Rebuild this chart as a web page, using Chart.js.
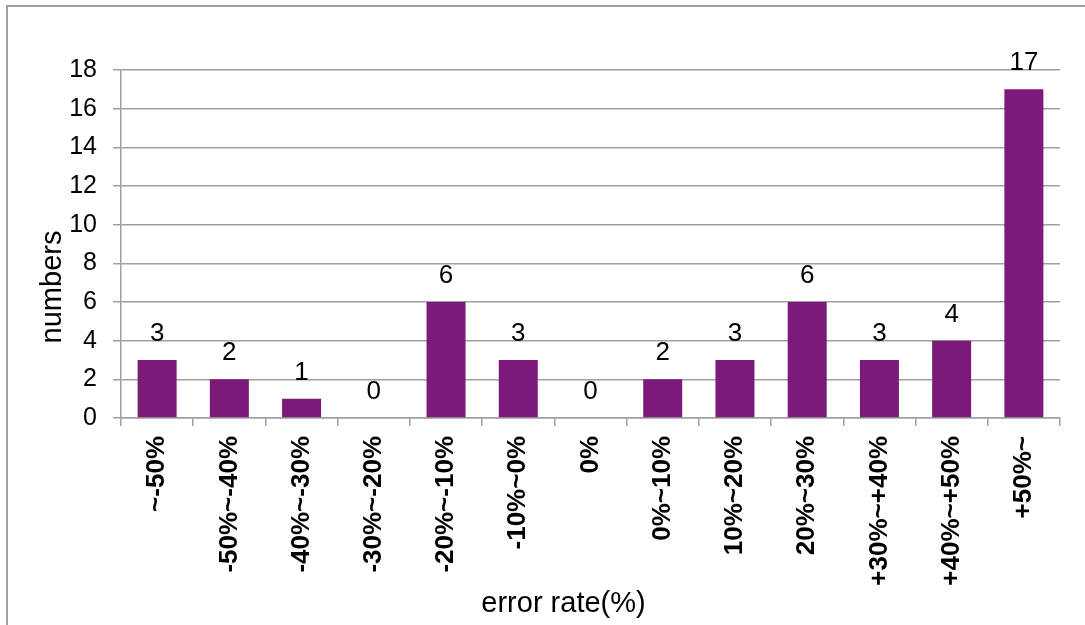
<!DOCTYPE html>
<html>
<head>
<meta charset="utf-8">
<script src="https://cdn.jsdelivr.net/npm/chart.js@4/dist/chart.umd.min.js"></script>
<style>
  html, body { margin: 0; padding: 0; background: #fff; overflow: hidden; }
  #wrap { width: 1085px; height: 625px; position: relative; }
</style>
</head>
<body>
<div id="wrap"><canvas id="chart" width="1085" height="625"></canvas></div>
<script>
// Error-rate bins and how many cases fall in each
const categories = ['~-50%', '-50%~-40%', '-40%~-30%', '-30%~-20%', '-20%~-10%', '-10%~0%',
                    '0%', '0%~10%', '10%~20%', '20%~30%', '+30%~+40%', '+40%~+50%', '+50%~'];
const counts = [3, 2, 1, 0, 6, 3, 0, 2, 3, 6, 3, 4, 17];
const yTickValues = [0, 2, 4, 6, 8, 10, 12, 14, 16, 18];
const xTitle = 'error rate(%)';
const yTitle = 'numbers';

const FONT = '"Liberation Sans", Arial, Helvetica, sans-serif';
const GRID = '#a0a0a0';
const BAR = '#7b1a79';

// Grey frame around the whole chart (its right and bottom edges run off the page)
const frame = { left: 7, top: 6, right: 1120, bottom: 760 };

const framePlugin = {
  id: 'frame',
  beforeDraw(chart) {
    const { ctx } = chart;
    ctx.save();
    ctx.fillStyle = '#fff';
    ctx.fillRect(0, 0, chart.width, chart.height);
    ctx.strokeStyle = GRID;
    ctx.lineWidth = 2;
    ctx.strokeRect(frame.left, frame.top, frame.right - frame.left, frame.bottom - frame.top);
    ctx.restore();
  }
};

// Count written above every bar
const valueLabels = {
  id: 'valueLabels',
  afterDatasetsDraw(chart) {
    const { ctx } = chart;
    const meta = chart.getDatasetMeta(0);
    ctx.save();
    ctx.font = '26px ' + FONT;
    ctx.fillStyle = '#000';
    ctx.textAlign = 'center';
    ctx.textBaseline = 'alphabetic';
    meta.data.forEach((bar, i) => {
      ctx.fillText(String(counts[i]), bar.x, bar.y - 19);
    });
    ctx.restore();
  }
};

// Axis titles, centred on the frame horizontally and beside the value axis
const axisTitles = {
  id: 'axisTitles',
  afterDraw(chart) {
    const { ctx } = chart;
    ctx.save();
    ctx.font = '29px ' + FONT;
    ctx.fillStyle = '#000';
    ctx.textAlign = 'center';
    ctx.textBaseline = 'alphabetic';
    ctx.fillText(xTitle, (frame.left + frame.right) / 2, 612);
    ctx.translate(61, 287);
    ctx.rotate(-Math.PI / 2);
    ctx.fillText(yTitle, 0, 0);
    ctx.restore();
  }
};

new Chart(document.getElementById('chart'), {
  type: 'bar',
  data: {
    labels: categories,
    datasets: [{
      data: counts,
      backgroundColor: BAR,
      borderWidth: 0,
      barPercentage: 0.54,
      categoryPercentage: 1.0
    }]
  },
  options: {
    responsive: false,
    animation: false,
    devicePixelRatio: 1,
    layout: { padding: { top: 70, right: 25, bottom: 0, left: 0 } },
    plugins: {
      legend: { display: false },
      tooltip: { enabled: false },
      title: { display: false }
    },
    scales: {
      x: {
        type: 'category',
        grid: {
          display: true,
          offset: true,
          drawOnChartArea: false,
          drawTicks: true,
          tickLength: 8,
          color: GRID,
          lineWidth: 1.5
        },
        border: { display: true, color: GRID, width: 1.5 },
        ticks: {
          autoSkip: false,
          minRotation: 90,
          maxRotation: 90,
          padding: 10,
          color: '#000',
          font: { family: FONT, size: 26, weight: 'bold' }
        },
        afterFit(scale) { scale.height = 207; }
      },
      y: {
        min: yTickValues[0],
        max: yTickValues[yTickValues.length - 1],
        afterBuildTicks(scale) { scale.ticks = yTickValues.map(v => ({ value: v })); },
        grid: { color: GRID, lineWidth: 1.5, tickLength: 8, drawTicks: true },
        border: { display: true, color: GRID, width: 1.5 },
        ticks: {
          padding: 16,
          color: '#000',
          font: { family: FONT, size: 25 }
        },
        afterFit(scale) { scale.width = 121; }
      }
    }
  },
  plugins: [framePlugin, valueLabels, axisTitles]
});
</script>
</body>
</html>
